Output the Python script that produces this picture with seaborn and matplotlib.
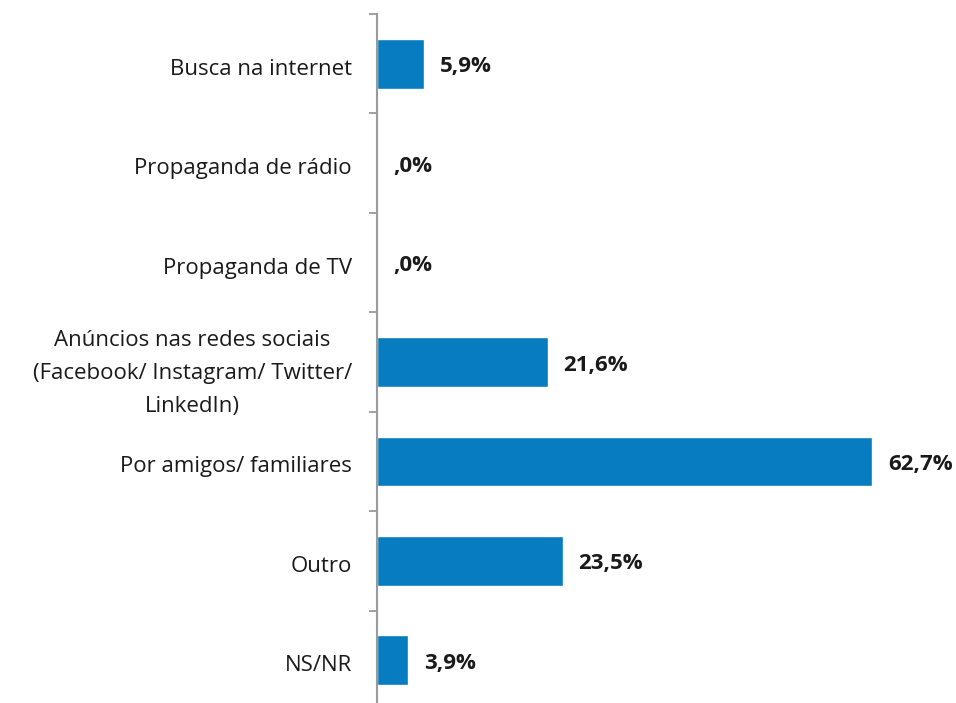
import matplotlib
matplotlib.use("Agg")
import matplotlib.pyplot as plt
import seaborn as sns
import pandas as pd
import numpy as np

categories = [
    "Busca na internet",
    "Propaganda de rádio",
    "Propaganda de TV",
    "Anúncios nas redes sociais\n(Facebook/ Instagram/ Twitter/\nLinkedIn)",
    "Por amigos/ familiares",
    "Outro",
    "NS/NR",
]
values = [5.9, 0.0, 0.0, 21.6, 62.7, 23.5, 3.9]

df = pd.DataFrame({"categoria": categories, "percentual": values})

sns.set_theme(style="white")
plt.rcParams["font.family"] = ["Open Sans", "DejaVu Sans"]

W, H = 956, 703
fig = plt.figure(figsize=(W / 100, H / 100), dpi=100)
ax_left, ax_top, ax_bottom = 377, 14, 710
ax = fig.add_axes([ax_left / W, 1 - ax_bottom / H, (930 - ax_left) / W, (ax_bottom - ax_top) / H])

bar_color = "#087CC0"
sns.barplot(data=df, x="percentual", y="categoria", orient="h", color=bar_color,
            width=0.5, saturation=1, ax=ax)

n = len(categories)
ax.set_xlim(0, 70)
ax.set_ylim(n - 0.5, -0.5)

def fmt(v):
    s = f"{v:.1f}".replace(".", ",")
    if s.startswith("0,"):
        s = s[1:]
    return s + "%"

for i, v in enumerate(values):
    ax.annotate(fmt(v), xy=(v, i), xytext=(16, -3), textcoords="offset pixels",
                ha="left", va="center", fontsize=16, fontweight="bold", color="#1a1a1a")

ax.set_xlabel("")
ax.set_ylabel("")
ax.set_xticks([])

# labels at category centres, tick marks at category boundaries
ax.set_yticks(range(n))
ax.set_yticklabels(categories, fontsize=16, color="#1a1a1a", ha="center",
                   multialignment="center", linespacing=1.75)
ax.tick_params(axis="y", which="major", length=0, pad=0)
ax.set_yticks(np.arange(-0.5, n, 1.0), minor=True)
ax.tick_params(axis="y", which="minor", length=6, width=1.3, color="#9a9a9a", direction="out", left=True)

# right-align each label block at a fixed column, keeping lines centred
fig.canvas.draw()
renderer = fig.canvas.get_renderer()
widths = [t.get_window_extent(renderer).width for t in ax.get_yticklabels()]
right_edge = 352
for t, w in zip(ax.get_yticklabels(), widths):
    cx = right_edge - w / 2
    offset = cx - ax_left
    t.set_transform(ax.get_yaxis_transform() + matplotlib.transforms.ScaledTranslation(offset / 100, -3 / 100, fig.dpi_scale_trans))
    t.set_x(0)

for side in ["top", "right", "bottom"]:
    ax.spines[side].set_visible(False)
ax.spines["left"].set_color("#9a9a9a")
ax.spines["left"].set_linewidth(1.5)

fig.savefig("out.png", dpi=100, facecolor="white")
